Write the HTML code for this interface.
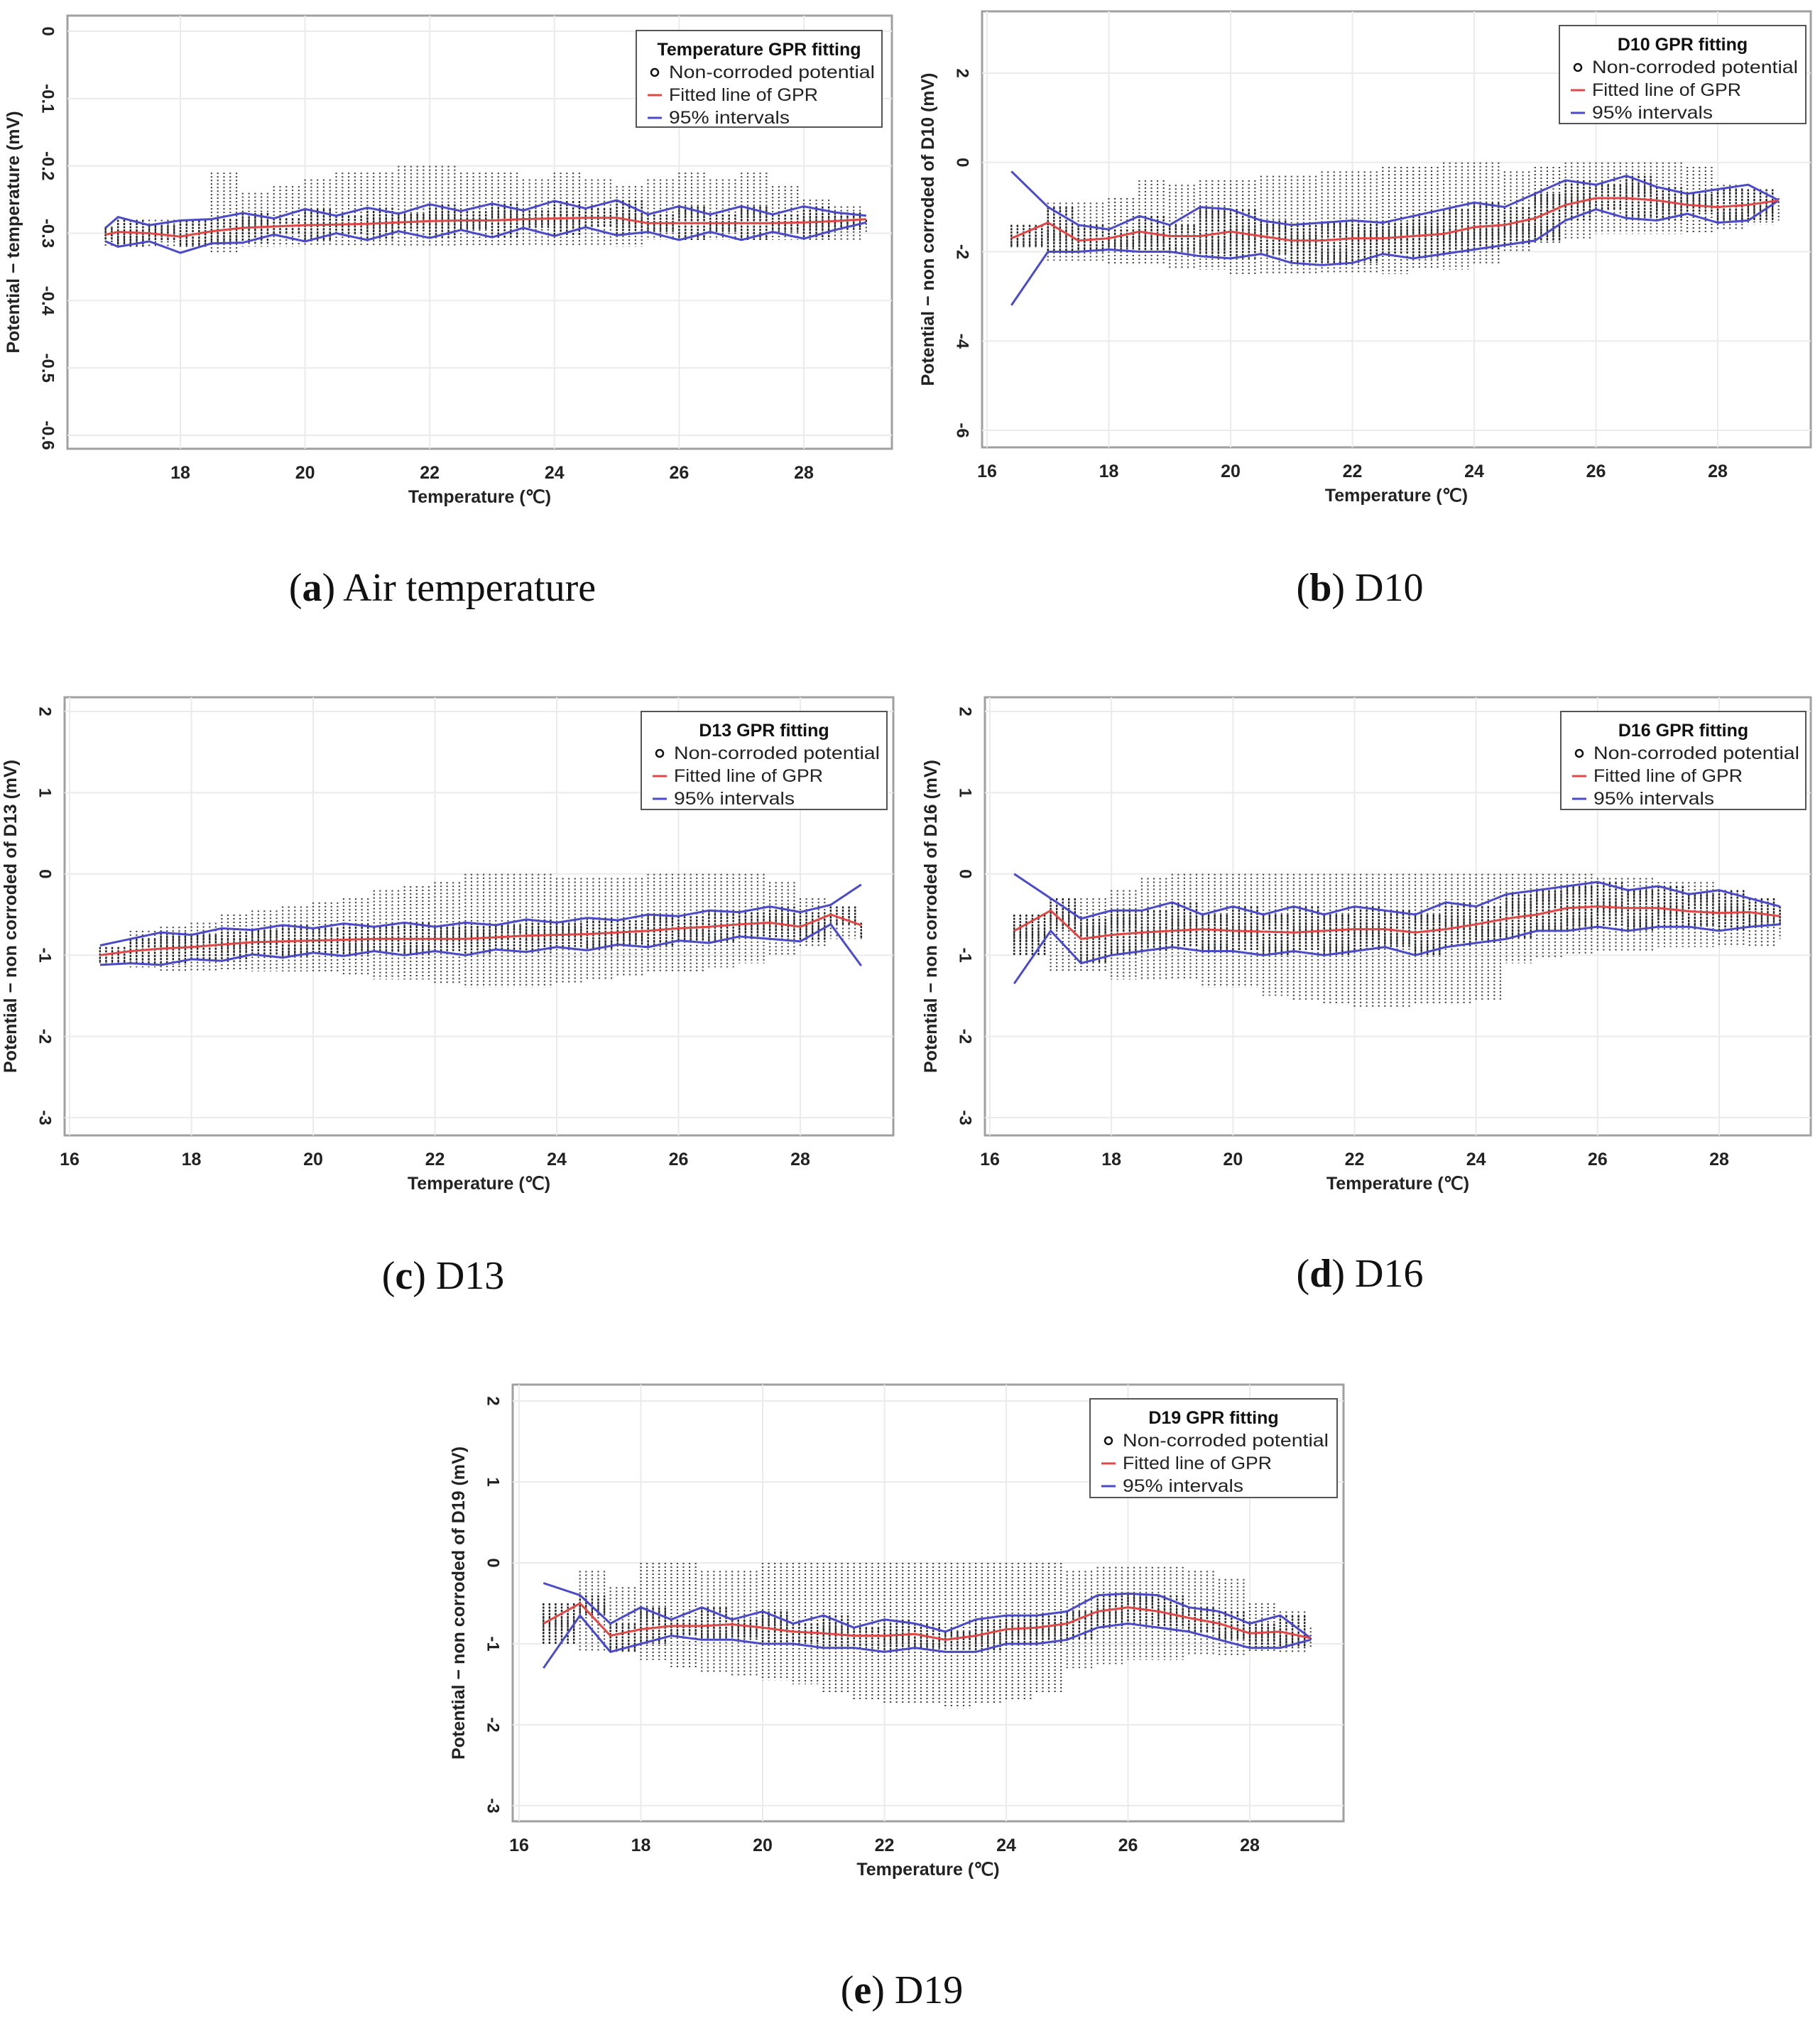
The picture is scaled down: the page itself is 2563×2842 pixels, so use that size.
<!DOCTYPE html>
<html><head><meta charset="utf-8">
<style>
html,body{margin:0;padding:0;background:#fff;}
body{width:2563px;height:2842px;overflow:hidden;position:relative;}
svg{position:absolute;left:0;top:0;}
.cap{position:absolute;font-family:"Liberation Serif",serif;font-size:56px;color:#111;transform:translateX(-50%);white-space:nowrap;}
</style></head>
<body>
<svg id="fig" width="2563" height="2842" viewBox="0 0 2563 2842"></svg>
<div class="cap" style="left:623px;top:796px">(<b>a</b>) Air temperature</div>
<div class="cap" style="left:1915px;top:796px">(<b>b</b>) D10</div>
<div class="cap" style="left:624px;top:1765px">(<b>c</b>) D13</div>
<div class="cap" style="left:1915px;top:1762px">(<b>d</b>) D16</div>
<div class="cap" style="left:1270px;top:2771px">(<b>e</b>) D19</div>
<script>
// ---- data (x sampled every 0.5 °C) ----
const xsA = [16.8,17,17.5,18,18.5,19,19.5,20,20.5,21,21.5,22,22.5,23,23.5,24,24.5,25,25.5,26,26.5,27,27.5,28,28.5,29];
const fitA = [-0.302,-0.298,-0.3,-0.305,-0.297,-0.292,-0.29,-0.288,-0.287,-0.286,-0.284,-0.282,-0.281,-0.281,-0.279,-0.278,-0.277,-0.277,-0.285,-0.285,-0.285,-0.285,-0.285,-0.284,-0.282,-0.279];
const hwA = [0.01,0.022,0.012,0.024,0.018,0.022,0.012,0.024,0.013,0.024,0.013,0.025,0.014,0.025,0.013,0.026,0.014,0.026,0.013,0.025,0.013,0.025,0.013,0.024,0.013,0.005];
const scLoA = [-0.32,-0.32,-0.32,-0.32,-0.33,-0.32,-0.32,-0.32,-0.32,-0.32,-0.32,-0.32,-0.32,-0.32,-0.32,-0.32,-0.32,-0.32,-0.31,-0.31,-0.31,-0.31,-0.31,-0.31,-0.31,-0.3];
const scHiA = [-0.29,-0.28,-0.28,-0.28,-0.21,-0.24,-0.23,-0.22,-0.21,-0.21,-0.2,-0.2,-0.21,-0.21,-0.22,-0.21,-0.22,-0.23,-0.22,-0.21,-0.22,-0.21,-0.23,-0.25,-0.26,-0.28];

const xsB = [16.4,17,17.5,18,18.5,19,19.5,20,20.5,21,21.5,22,22.5,23,23.5,24,24.5,25,25.5,26,26.5,27,27.5,28,28.5,29];
const fitB = [-1.7,-1.35,-1.75,-1.7,-1.55,-1.65,-1.65,-1.55,-1.65,-1.75,-1.75,-1.7,-1.7,-1.65,-1.6,-1.45,-1.4,-1.25,-0.95,-0.8,-0.8,-0.85,-0.95,-1.0,-0.95,-0.85];
const upB = [-0.2,-1.0,-1.4,-1.5,-1.2,-1.4,-1.0,-1.05,-1.3,-1.4,-1.35,-1.3,-1.35,-1.2,-1.05,-0.9,-1.0,-0.7,-0.4,-0.5,-0.3,-0.55,-0.7,-0.6,-0.5,-0.85];
const loB = [-3.2,-2.0,-2.0,-1.95,-2.0,-2.0,-2.1,-2.15,-2.05,-2.25,-2.3,-2.25,-2.05,-2.15,-2.05,-1.95,-1.85,-1.75,-1.3,-1.05,-1.25,-1.3,-1.15,-1.35,-1.3,-0.85];
const scLoB = [-1.9,-2.2,-2.2,-2.3,-2.3,-2.4,-2.4,-2.5,-2.5,-2.5,-2.5,-2.5,-2.5,-2.4,-2.4,-2.3,-2.0,-1.8,-1.7,-1.6,-1.6,-1.6,-1.6,-1.5,-1.4,-1.3];
const scHiB = [-1.4,-0.9,-0.9,-0.8,-0.4,-0.5,-0.4,-0.4,-0.3,-0.3,-0.2,-0.2,-0.1,-0.1,0,0,-0.2,-0.1,0,0,0,0,-0.1,-0.5,-0.6,-0.8];

const xsC = [16.5,17,17.5,18,18.5,19,19.5,20,20.5,21,21.5,22,22.5,23,23.5,24,24.5,25,25.5,26,26.5,27,27.5,28,28.5,29];
const fitC = [-1.0,-0.95,-0.92,-0.9,-0.87,-0.84,-0.83,-0.82,-0.81,-0.8,-0.8,-0.8,-0.8,-0.78,-0.76,-0.75,-0.74,-0.72,-0.7,-0.67,-0.65,-0.62,-0.6,-0.65,-0.5,-0.63];
const hwC = [0.12,0.15,0.2,0.15,0.2,0.15,0.2,0.15,0.2,0.15,0.2,0.15,0.2,0.15,0.2,0.15,0.2,0.15,0.2,0.15,0.2,0.15,0.2,0.18,0.12,0.5];
const scLoC = [-1.1,-1.15,-1.2,-1.2,-1.2,-1.2,-1.2,-1.2,-1.25,-1.3,-1.3,-1.35,-1.4,-1.4,-1.4,-1.35,-1.3,-1.25,-1.2,-1.2,-1.15,-1.1,-1.0,-0.9,-0.8,-0.8];
const scHiC = [-0.9,-0.7,-0.65,-0.6,-0.5,-0.45,-0.4,-0.35,-0.3,-0.2,-0.15,-0.1,0,0,0,-0.05,-0.05,-0.05,0,0,0,0,-0.1,-0.3,-0.4,-0.6];

const xsD = [16.4,17,17.5,18,18.5,19,19.5,20,20.5,21,21.5,22,22.5,23,23.5,24,24.5,25,25.5,26,26.5,27,27.5,28,28.5,29];
const fitD = [-0.7,-0.45,-0.8,-0.75,-0.72,-0.7,-0.68,-0.7,-0.71,-0.72,-0.7,-0.68,-0.68,-0.72,-0.68,-0.62,-0.55,-0.5,-0.42,-0.4,-0.42,-0.42,-0.46,-0.48,-0.47,-0.52];
const upD = [0.0,-0.3,-0.55,-0.45,-0.45,-0.35,-0.5,-0.4,-0.5,-0.4,-0.5,-0.4,-0.45,-0.5,-0.35,-0.4,-0.25,-0.2,-0.15,-0.1,-0.2,-0.15,-0.25,-0.2,-0.3,-0.4];
const loD = [-1.35,-0.7,-1.1,-1.0,-0.95,-0.9,-0.95,-0.95,-1.0,-0.95,-1.0,-0.95,-0.9,-1.0,-0.9,-0.85,-0.8,-0.7,-0.7,-0.65,-0.7,-0.65,-0.65,-0.7,-0.65,-0.62];
const scLoD = [-1.0,-1.2,-1.2,-1.3,-1.3,-1.3,-1.4,-1.4,-1.5,-1.55,-1.6,-1.65,-1.65,-1.6,-1.6,-1.55,-1.1,-1.05,-1.0,-0.95,-0.95,-0.9,-0.9,-0.9,-0.9,-0.8];
const scHiD = [-0.5,-0.3,-0.3,-0.2,-0.05,0,0,0,0,0,0,0,0,0,0,0,0,0,0,-0.05,-0.05,-0.1,-0.1,-0.2,-0.3,-0.4];

const xsE = [16.4,17,17.5,18,18.5,19,19.5,20,20.5,21,21.5,22,22.5,23,23.5,24,24.5,25,25.5,26,26.5,27,27.5,28,28.5,29];
const fitE = [-0.75,-0.5,-0.9,-0.82,-0.78,-0.78,-0.76,-0.8,-0.85,-0.87,-0.9,-0.9,-0.88,-0.95,-0.9,-0.82,-0.8,-0.75,-0.6,-0.55,-0.6,-0.68,-0.75,-0.87,-0.85,-0.93];
const upE = [-0.25,-0.4,-0.75,-0.55,-0.7,-0.55,-0.7,-0.6,-0.75,-0.65,-0.8,-0.7,-0.75,-0.85,-0.7,-0.65,-0.65,-0.6,-0.4,-0.38,-0.4,-0.55,-0.6,-0.75,-0.65,-0.93];
const loE = [-1.3,-0.65,-1.1,-1.0,-0.9,-0.95,-0.95,-1.0,-1.0,-1.05,-1.05,-1.1,-1.05,-1.1,-1.1,-1.0,-1.0,-0.95,-0.8,-0.75,-0.8,-0.85,-0.95,-1.05,-1.05,-0.95];
const scLoE = [-1.0,-1.1,-1.1,-1.2,-1.3,-1.35,-1.4,-1.45,-1.5,-1.6,-1.7,-1.75,-1.75,-1.8,-1.75,-1.7,-1.6,-1.3,-1.25,-1.2,-1.2,-1.15,-1.15,-1.1,-1.1,-1.05];
const scHiE = [-0.5,-0.1,-0.3,0,0,-0.1,-0.1,0,0,0,0,0,0,0,0,0,0,-0.1,-0.05,-0.05,-0.05,-0.1,-0.2,-0.5,-0.6,-0.8];

const ticksA = [0,-0.1,-0.2,-0.3,-0.4,-0.5,-0.6];
const ticksB = [2,0,-2,-4,-6];
const ticksCDE = [2,1,0,-1,-2,-3];
const xticksA = [18,20,22,24,26,28];
const xticks16 = [16,18,20,22,24,26,28];

const NS='http://www.w3.org/2000/svg';
const svg=document.getElementById('fig');
function mk(tag,attrs,parent){const e=document.createElementNS(NS,tag);for(const k in attrs)e.setAttribute(k,attrs[k]);(parent||svg).appendChild(e);return e;}

function panel(p){
  const g=mk('g',{});
  
  
  const sx=v=>p.x0px+(v-p.x0v)*(p.x1px-p.x0px)/(p.x1v-p.x0v);
  const sy=v=>p.y0px+(v-p.y0v)*(p.y1px-p.y0px)/(p.y1v-p.y0v);
  const f=p.frame;
  mk('rect',{x:f[0],y:f[1],width:f[2]-f[0],height:f[3]-f[1],fill:'#fff',stroke:'#a0a0a0','stroke-width':3},g);
  p.yt.forEach(t=>{const l=mk('line',{x1:f[0],x2:f[2],y1:sy(t),y2:sy(t),stroke:'#ebebeb','stroke-width':2},g);
    });
  p.xt.forEach(t=>{const l=mk('line',{y1:f[1],y2:f[3],x1:sx(t),x2:sx(t),stroke:'#ebebeb','stroke-width':2},g);
    });
  const up=p.up||p.fit.map((v,i)=>v+p.hw[i]);
  const lo=p.lo2||p.fit.map((v,i)=>v-p.hw[i]);
  // scatter columns: light outer range + dense core between intervals
  const sc=mk('g',{stroke:'#444','stroke-width':2.2,'stroke-dasharray':'2 3'},g);
  
  
  const core=mk('g',{stroke:'#222','stroke-width':2.4,'stroke-dasharray':'3 1.5'},g);
  
  
  for(let i=0;i<p.xs.length;i++){
    const xa=p.xs[i], xb=i+1<p.xs.length?p.xs[i+1]:p.xs[i]+0.1;
    for(let x=xa;x<xb-0.001;x+=0.1){
      const l=mk('line',{x1:sx(x),x2:sx(x),y1:sy(p.hi[i]),y2:sy(p.lo[i])},sc);
      
      const a=Math.max(lo[i],p.lo[i]), b=Math.min(up[i],p.hi[i]);
      if(b>a){const c=mk('line',{x1:sx(x),x2:sx(x),y1:sy(b),y2:sy(a)},core);
        }
    }
  }
  const pts=a=>p.xs.map((x,i)=>sx(x).toFixed(1)+','+sy(a[i]).toFixed(1)).join(' ');
  const u=mk('polyline',{points:pts(up),fill:'none',stroke:'#4b4bc8','stroke-width':3},g);
  
  const lw=mk('polyline',{points:pts(lo),fill:'none',stroke:'#4b4bc8','stroke-width':3},g);
  
  const ft=mk('polyline',{points:pts(p.fit),fill:'none',stroke:'#e04848','stroke-width':3},g);
  
  p.yt.forEach(t=>{const tx=f[0]-28,ty=sy(t);
    const e=mk('text',{x:tx,y:ty,transform:`rotate(90 ${tx} ${ty})`,'text-anchor':'middle','dominant-baseline':'central','font-family':'Liberation Sans, sans-serif','font-weight':'bold','font-size':24,fill:'#222'},g);
    e.textContent=String(t);
    });
  p.xt.forEach(t=>{const e=mk('text',{x:sx(t),y:f[3]+42,'text-anchor':'middle','font-family':'Liberation Sans, sans-serif','font-weight':'bold','font-size':25,fill:'#222'},g);
    e.textContent=t;});
  const xt=mk('text',{x:(f[0]+f[2])/2,y:f[3]+76,'text-anchor':'middle','font-family':'Liberation Sans, sans-serif','font-weight':'bold','font-size':25,fill:'#222'},g);
  xt.textContent='Temperature (℃)';
  const yx=f[0]-68, yy=(f[1]+f[3])/2;
  const yt=mk('text',{x:yx,y:yy,transform:`rotate(-90 ${yx} ${yy})`,'text-anchor':'middle','font-family':'Liberation Sans, sans-serif','font-weight':'bold','font-size':25,fill:'#222'},g);
  yt.textContent=p.ytitle;
  const L=p.leg, lg=mk('g',{},g);
  
  mk('rect',{x:L[0],y:L[1],width:L[2]-L[0],height:L[3]-L[1],fill:'#fff',stroke:'#555','stroke-width':2},lg);
  const tt=mk('text',{x:(L[0]+L[2])/2,y:L[1]+35,'text-anchor':'middle','font-family':'Liberation Sans, sans-serif','font-weight':'bold','font-size':25,fill:'#111'},lg);
  tt.textContent=p.legTitle;
  const labels=['Non-corroded potential','Fitted line of GPR','95% intervals'];
  labels.forEach((s,i)=>{const y=L[1]+67+i*32;
    if(i===0){mk('circle',{cx:L[0]+26,cy:y-8,r:5,fill:'none',stroke:'#111','stroke-width':2.5},lg);}
    else mk('line',{x1:L[0]+16,x2:L[0]+36,y1:y-8,y2:y-8,stroke:i===1?'#e04848':'#4b4bc8','stroke-width':3},lg);
    const e=mk('text',{x:L[0]+46,y:y,'font-family':'Liberation Sans, sans-serif','font-size':25,fill:'#222',textLength:i===0?290:(i===1?210:170),lengthAdjust:'spacingAndGlyphs'},lg);
    e.textContent=s;});
}

panel({id:'air-temperature',frame:[95,22,1256,632],x0v:18,x1v:28,x0px:254,x1px:1132,y0v:0,y1v:-0.6,y0px:44,y1px:613,
  xs:xsA,fit:fitA,hw:hwA,lo:scLoA,hi:scHiA,yt:ticksA,xt:xticksA,ytitle:'Potential − temperature (mV)',legTitle:'Temperature GPR fitting',leg:[896,43,1242,179]});
panel({id:'d10',frame:[1383,16,2550,630],x0v:16,x1v:28,x0px:1390,x1px:2419,y0v:2,y1v:-6,y0px:103,y1px:606,
  xs:xsB,fit:fitB,up:upB,lo2:loB,lo:scLoB,hi:scHiB,yt:ticksB,xt:xticks16,ytitle:'Potential − non corroded of D10 (mV)',legTitle:'D10 GPR fitting',leg:[2196,36,2543,174]});
panel({id:'d13',frame:[91,982,1258,1599],x0v:16,x1v:28,x0px:98,x1px:1127,y0v:2,y1v:-3,y0px:1002,y1px:1574,
  xs:xsC,fit:fitC,hw:hwC,lo:scLoC,hi:scHiC,yt:ticksCDE,xt:xticks16,ytitle:'Potential − non corroded of D13 (mV)',legTitle:'D13 GPR fitting',leg:[903,1002,1249,1140]});
panel({id:'d16',frame:[1387,982,2550,1599],x0v:16,x1v:28,x0px:1394,x1px:2421,y0v:2,y1v:-3,y0px:1002,y1px:1574,
  xs:xsD,fit:fitD,up:upD,lo2:loD,lo:scLoD,hi:scHiD,yt:ticksCDE,xt:xticks16,ytitle:'Potential − non corroded of D16 (mV)',legTitle:'D16 GPR fitting',leg:[2198,1002,2543,1140]});
panel({id:'d19',frame:[722,1950,1892,2565],x0v:16,x1v:28,x0px:731,x1px:1760,y0v:2,y1v:-3,y0px:1973,y1px:2543,
  xs:xsE,fit:fitE,up:upE,lo2:loE,lo:scLoE,hi:scHiE,yt:ticksCDE,xt:xticks16,ytitle:'Potential − non corroded of D19 (mV)',legTitle:'D19 GPR fitting',leg:[1535,1970,1883,2109]});
</script>
</body></html>
